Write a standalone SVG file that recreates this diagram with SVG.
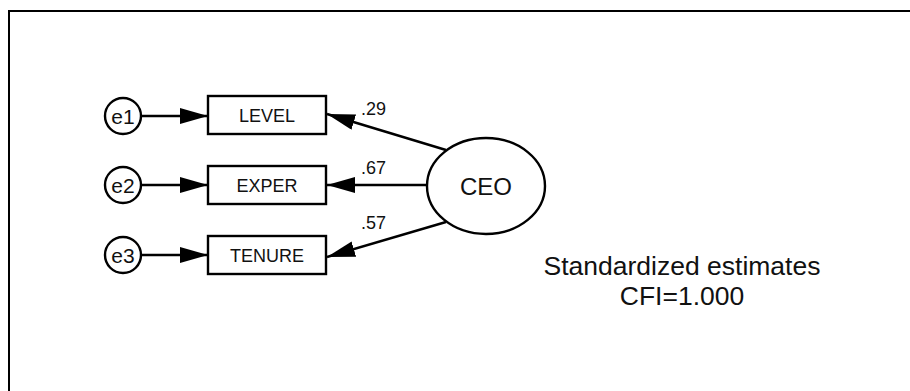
<svg xmlns="http://www.w3.org/2000/svg" width="910" height="391" viewBox="0 0 910 391">
  <style>
    .ln { stroke: #000; stroke-width: 2.4; fill: none; }
    .shape { stroke: #000; stroke-width: 2.4; fill: #fff; }
    text { font-family: "Liberation Sans", Arial, sans-serif; fill: #111; }
    .box-t { font-size: 18px; text-anchor: middle; }
    .err-t { font-size: 21px; text-anchor: middle; }
    .lat-t { font-size: 24px; text-anchor: middle; }
    .est { font-size: 18px; }
    .note { font-size: 26.5px; text-anchor: middle; }
  </style>
  <defs>
    <marker id="head" viewBox="0 0 28 16" refX="28" refY="8" markerWidth="28" markerHeight="16" markerUnits="userSpaceOnUse" orient="auto">
      <path d="M0,0 L28,8 L0,16 Z" fill="#000"/>
    </marker>
  </defs>
  <rect width="910" height="391" fill="#fff"/>
  <!-- frame -->
  <path d="M9,391 V11 H910" stroke="#000" stroke-width="2" fill="none"/>

  <g id="connectors">
    <line class="ln" x1="141" y1="116" x2="208" y2="116" marker-end="url(#head)"/>
    <line class="ln" x1="141" y1="185" x2="208" y2="185" marker-end="url(#head)"/>
    <line class="ln" x1="141" y1="255" x2="208" y2="255" marker-end="url(#head)"/>
    <line class="ln" x1="446" y1="150" x2="327" y2="114" marker-end="url(#head)"/>
    <line class="ln" x1="427" y1="185" x2="327" y2="185" marker-end="url(#head)"/>
    <line class="ln" x1="446" y1="222" x2="327" y2="257" marker-end="url(#head)"/>
    <text class="est" x="361" y="115">.29</text>
    <text class="est" x="361" y="174">.67</text>
    <text class="est" x="361" y="229">.57</text>
  </g>

  <g id="e1">
    <circle class="shape" cx="123" cy="116" r="18"/>
    <text class="err-t" x="123" y="123.5">e1</text>
  </g>
  <g id="e2">
    <circle class="shape" cx="123" cy="185" r="18"/>
    <text class="err-t" x="123" y="192.5">e2</text>
  </g>
  <g id="e3">
    <circle class="shape" cx="123" cy="255" r="18"/>
    <text class="err-t" x="123" y="262.5">e3</text>
  </g>

  <g id="level">
    <rect class="shape" x="208" y="96" width="118" height="38"/>
    <text class="box-t" x="267" y="121.5">LEVEL</text>
  </g>
  <g id="exper">
    <rect class="shape" x="208" y="166" width="118" height="38"/>
    <text class="box-t" x="267" y="191.5">EXPER</text>
  </g>
  <g id="tenure">
    <rect class="shape" x="208" y="236" width="118" height="38"/>
    <text class="box-t" x="267" y="261.5">TENURE</text>
  </g>

  <g id="ceo">
    <ellipse class="shape" cx="486" cy="186" rx="59" ry="48"/>
    <text class="lat-t" x="486" y="195">CEO</text>
  </g>

  <g id="notes">
    <text class="note" x="682" y="275">Standardized estimates</text>
    <text class="note" x="682" y="305">CFI=1.000</text>
  </g>
</svg>
